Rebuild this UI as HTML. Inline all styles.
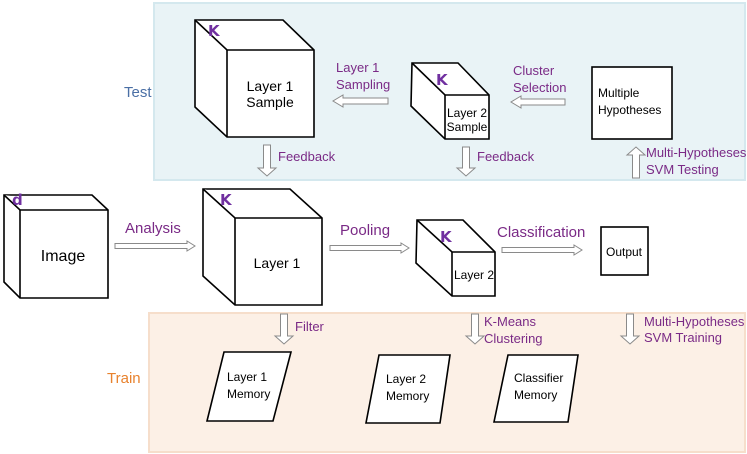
<!DOCTYPE html>
<html><head><meta charset="utf-8"><style>
html,body{margin:0;padding:0;background:#fff;}
svg{display:block;font-family:"Liberation Sans",sans-serif;}
.p{fill:#7a2a86;font-size:13px;font-family:"Liberation Sans",sans-serif;}
.b{font-size:15px;}
.k{fill:#7030a0;font-size:15px;font-weight:bold;font-family:"DejaVu Sans",sans-serif;}
.c{fill:#fff;stroke:#000;stroke-width:1.6;stroke-linejoin:miter;}
.a{fill:#fff;stroke:#8a8a8a;stroke-width:1;}
.t{fill:#000;font-size:14px;}
.s{fill:#000;font-size:12px;font-family:"Liberation Sans",sans-serif;}
</style></head><body>
<svg width="747" height="454" viewBox="0 0 747 454">
<rect x="154" y="3" width="591" height="177" fill="#e9f3f6" stroke="#d4e8ee" stroke-width="2"/>
<rect x="149" y="313" width="596" height="139" fill="#fcf0e6" stroke="#f6decb" stroke-width="2"/>
<text x="124" y="97" fill="#4a6fa5" font-size="15">Test</text>
<text x="107" y="383" fill="#e8822e" font-size="15">Train</text>

<!-- Layer 1 Sample cube -->
<polygon class="c" points="195,20 283,20 314,50 314,137 227,137 195,107"/>
<polyline class="c" points="195,20 227,50 314,50" fill="none"/>
<line class="c" x1="227" y1="50" x2="227" y2="137"/>
<text class="k" x="208" y="36">K</text>
<text class="t" x="270" y="91" text-anchor="middle">Layer 1</text>
<text class="t" x="270" y="107" text-anchor="middle">Sample</text>

<!-- Layer 2 Sample -->
<polygon class="c" points="412,63 458,63 489,95 489,139 445,139 411,106"/>
<polyline class="c" points="412,63 445,95 489,95" fill="none"/>
<line class="c" x1="445" y1="95" x2="445" y2="139"/>
<text class="k" x="436" y="85">K</text>
<text class="s" x="467" y="117" text-anchor="middle">Layer 2</text>
<text class="s" x="467" y="131" text-anchor="middle">Sample</text>

<!-- Multiple Hypotheses -->
<rect class="c" x="592" y="67" width="80" height="72"/>
<text class="s" x="598" y="97" font-size="13">Multiple</text>
<text class="s" x="598" y="114" font-size="13">Hypotheses</text>

<polygon class="a" points="388,98 343,98 343,95 333,101 343,107 343,104 388,104"/>
<text class="p" x="336" y="72">Layer 1</text>
<text class="p" x="336" y="89">Sampling</text>
<polygon class="a" points="565,99 521,99 521,96 511,102 521,108 521,105 565,105"/>
<text class="p" x="513" y="75">Cluster</text>
<text class="p" x="513" y="92">Selection</text>

<polygon class="a" points="263.5,145 270.5,145 270.5,168 276,168 267,176 258,168 263.5,168"/>
<text class="p" x="278" y="161">Feedback</text>
<polygon class="a" points="462.5,147 469.5,147 469.5,168 475,168 466,176 457,168 462.5,168"/>
<text class="p" x="477" y="161">Feedback</text>
<polygon class="a" points="632.5,178 639.5,178 639.5,155 645,155 636,147 627,155 632.5,155"/>
<text class="p" x="646" y="157">Multi-Hypotheses</text>
<text class="p" x="646" y="174">SVM Testing</text>

<!-- Image cube -->
<polygon class="c" points="4,195 92,195 108,210 108,298 20,298 4,282"/>
<polyline class="c" points="4,195 20,210 108,210" fill="none"/>
<line class="c" x1="20" y1="210" x2="20" y2="298"/>
<text class="k" x="12" y="205">d</text>
<text x="63" y="261" text-anchor="middle" font-size="16">Image</text>

<polygon class="a" points="115,243.5 187,243.5 187,241 195,246 187,251 187,248.5 115,248.5"/>
<text class="p b" x="125" y="233">Analysis</text>

<!-- Layer 1 cube -->
<polygon class="c" points="203,189 290,189 322,218 322,305 235,305 203,276"/>
<polyline class="c" points="203,189 235,218 322,218" fill="none"/>
<line class="c" x1="235" y1="218" x2="235" y2="305"/>
<text class="k" x="220" y="205">K</text>
<text class="t" x="277" y="268" text-anchor="middle">Layer 1</text>

<polygon class="a" points="330,245.5 401,245.5 401,243 409,248 401,253 401,250.5 330,250.5"/>
<text class="p b" x="340" y="235">Pooling</text>

<!-- Layer 2 cube -->
<polygon class="c" points="417,220 463,220 495,252 495,296 452,296 416,263"/>
<polyline class="c" points="417,220 452,252 495,252" fill="none"/>
<line class="c" x1="452" y1="252" x2="452" y2="296"/>
<text class="k" x="440" y="242">K</text>
<text class="s" x="474" y="279" text-anchor="middle" font-size="13">Layer 2</text>

<polygon class="a" points="502,247.5 574,247.5 574,245 582,250 574,255 574,252.5 502,252.5"/>
<text class="p b" x="497" y="237">Classification</text>

<rect class="c" x="601" y="227" width="47" height="48"/>
<text class="s" x="624" y="256" text-anchor="middle" font-size="13">Output</text>

<!-- Train -->
<polygon class="a" points="280.5,314 287.5,314 287.5,336 293,336 284,344 275,336 280.5,336"/>
<text class="p" x="295" y="331">Filter</text>
<polygon class="a" points="471.5,314 478.5,314 478.5,336 484,336 475,344 466,336 471.5,336"/>
<text class="p" x="484" y="326">K-Means</text>
<text class="p" x="484" y="343">Clustering</text>
<polygon class="a" points="626.5,314 633.5,314 633.5,336 639,336 630,344 621,336 626.5,336"/>
<text class="p" x="644" y="326">Multi-Hypotheses</text>
<text class="p" x="644" y="342">SVM Training</text>

<polygon class="c" points="224,352 291,352 273,421 207,421" stroke-width="1.3"/>
<text class="s" x="227" y="381" font-size="13">Layer 1</text>
<text class="s" x="227" y="398" font-size="13">Memory</text>
<polygon class="c" points="379,355 450,355 440,423 366,423" stroke-width="1.3"/>
<text class="s" x="386" y="383" font-size="13">Layer 2</text>
<text class="s" x="386" y="400" font-size="13">Memory</text>
<polygon class="c" points="508,355 578,355 568,422 494,422" stroke-width="1.3"/>
<text class="s" x="514" y="382" font-size="13">Classifier</text>
<text class="s" x="514" y="399" font-size="13">Memory</text>
</svg>
</body></html>
